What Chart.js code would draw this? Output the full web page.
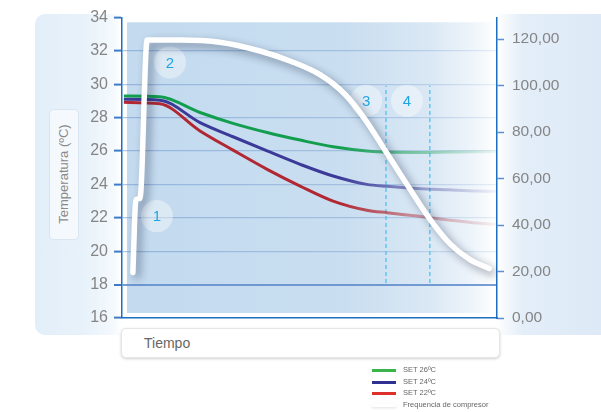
<!DOCTYPE html>
<html>
<head>
<meta charset="utf-8">
<script src="https://cdn.jsdelivr.net/npm/chart.js@4.4.1/dist/chart.umd.min.js"></script>
<style>
  body { margin: 0; background: #ffffff; font-family: "Liberation Sans", Arial, sans-serif; }
  #wrap { position: relative; width: 601px; height: 412px; overflow: hidden; }
  #panel {
    position: absolute; left: 35px; top: 14px; width: 580px; height: 321px; border-radius: 10px;
    background: linear-gradient(to right, #e2eef9 0px, #e8f2fa 50px, #f4f9fd 78px, #ffffff 87px,
      #ffffff 462px, #f3f8fc 472px, #e3eef9 488px, #dde9f6 566px);
  }
  #ylabel_box {
    position: absolute; left: 49px; top: 109px; width: 28px; height: 129px; border-radius: 5px;
    background: rgba(255,255,255,0.6); border: 1px solid rgba(205,220,235,0.7);
  }
  #ylabel {
    position: absolute; left: 63px; top: 174px; transform: translate(-50%, -50%) rotate(-90deg);
    white-space: nowrap; font-size: 13px; color: #8a8a8a;
  }
  #xlabel_box {
    position: absolute; left: 121px; top: 328px; width: 377px; height: 28px; border-radius: 5px;
    background: #ffffff; border: 1px solid #e6e6e6; box-shadow: 0 1px 3px rgba(0,0,0,0.18);
  }
  #xlabel { position: absolute; left: 22px; top: 6px; font-size: 14px; color: #666666; }
  #myChart { position: absolute; left: 0; top: 0; }
  #legend { position: absolute; left: 372px; top: 365px; }
  .item { height: 11.7px; position: relative; }
  .swatch { position: absolute; left: 0; top: 4px; width: 24px; height: 3px; }
  .txt { position: absolute; left: 31px; top: 0px; font-size: 7.5px; color: #666666; white-space: nowrap; }
</style>
</head>
<body>
<div id="wrap">
  <div id="panel"></div>
  <div id="ylabel_box"></div>
  <div id="ylabel">Temperatura (ºC)</div>
  <div id="xlabel_box"><div id="xlabel">Tiempo</div></div>
  <canvas id="myChart" width="601" height="412"></canvas>
  <div id="legend"></div>
</div>
<script>
// tiempo (sin unidades, el eje X no lleva etiquetas)
const tiempo = [0.5, 10.1, 20.8, 29.6, 38.7, 47.5, 56.3, 65.3, 70.7, 78.7, 87, 94.7, 100];
const set26 = [29.29, 29.24, 28.3, 27.65, 27.1, 26.65, 26.25, 26.0, 25.93, 25.91, 25.93, 25.95, 25.96];
const set24 = [29.09, 29.04, 27.7, 26.85, 26.0, 25.2, 24.5, 24.0, 23.88, 23.75, 23.67, 23.6, 23.58];
const set22 = [28.91, 28.82, 27.2, 26.05, 24.9, 23.9, 23.0, 22.45, 22.3, 22.1, 21.87, 21.68, 21.6];

// frecuencia de compresor (eje derecho)
const tiempoComp = [2.9, 3.7, 4.8, 6.7, 15.5, 26.1, 36.8, 44.8, 52.8, 59.5, 64.8, 70.1, 76, 82.1, 87.5, 92.8, 97.9];
const frecuencia = [19.6, 51, 51.5, 119.6, 119.6, 118.7, 114.9, 110.6, 104.7, 96.2, 85.5, 72.3, 57.4, 42.6, 31.9, 25.1, 21.3];

// fases 1-4
const faseLabels = ['1', '2', '3', '4'];
const faseX = [9.3, 12.8, 65.1, 76];
const faseY = [22.1, 31.3, 29.0, 29.0];

// lineas discontinuas
const cortesX = [70.4, 82.1];
const cortesY = [18.1, 29.9];

const tempTicks = [16, 18, 20, 22, 24, 26, 28, 30, 32, 34];
const compTicks = [0, 20, 40, 60, 80, 100, 120];

const seriesNames = ['SET 26ºC', 'SET 24ºC', 'SET 22ºC', 'Frequencia de compresor'];
const legendColors = ['#3bb54a', '#2e3192', '#dd302a', '#ffffff'];

function toPoints(xs, ys) {
    let pts = [];
    for (let i = 0; i < xs.length; i = i + 1) {
        pts.push({ x: xs[i], y: ys[i] });
    }
    return pts;
}

function fadeColor(r, g, b) {
    return function (context) {
        const chart = context.chart;
        const area = chart.chartArea;
        if (!area) return 'rgb(' + r + ',' + g + ',' + b + ')';
        const grad = chart.ctx.createLinearGradient(area.left, 0, area.right, 0);
        grad.addColorStop(0, 'rgba(' + r + ',' + g + ',' + b + ',1)');
        grad.addColorStop(0.58, 'rgba(' + r + ',' + g + ',' + b + ',1)');
        grad.addColorStop(0.76, 'rgba(' + r + ',' + g + ',' + b + ',0.5)');
        grad.addColorStop(1, 'rgba(' + r + ',' + g + ',' + b + ',0.05)');
        return grad;
    };
}

function gridColor(context) {
    const chart = context.chart;
    const area = chart.chartArea;
    const v = context.tick ? context.tick.value : null;
    if (v === 16 || v === 34) return 'rgba(0,0,0,0)';
    if (v === 18) return 'rgba(95,140,205,0.85)';
    if (!area) return 'rgba(110,150,205,0.5)';
    const grad = chart.ctx.createLinearGradient(area.left, 0, area.right, 0);
    grad.addColorStop(0, 'rgba(110,150,205,0.55)');
    grad.addColorStop(0.7, 'rgba(110,150,205,0.4)');
    grad.addColorStop(1, 'rgba(110,150,205,0.15)');
    return grad;
}

// fondo del area del grafico
const plotBackground = {
    id: 'plotBackground',
    beforeDraw(chart) {
        const { ctx, chartArea } = chart;
        const a = chartArea;
        ctx.save();
        ctx.fillStyle = 'rgba(255,255,255,0.9)';
        ctx.fillRect(a.left, a.top, a.right - a.left, a.bottom - a.top);
        const grad = ctx.createLinearGradient(a.left, 0, a.right, 0);
        grad.addColorStop(0, '#c3daef');
        grad.addColorStop(0.6, '#c9def0');
        grad.addColorStop(0.82, '#dae8f5');
        grad.addColorStop(0.93, '#edf4fa');
        grad.addColorStop(1, '#ffffff');
        ctx.fillStyle = grad;
        ctx.fillRect(a.left + 5, a.top + 5, a.right - a.left - 10, a.bottom - a.top - 10);
        ctx.restore();
    }
};

// sombra de la linea blanca y numeros de las fases
const extras = {
    id: 'extras',
    beforeDatasetDraw(chart, args) {
        if (args.index === 3) {
            const ctx = chart.ctx;
            ctx.save();
            ctx.shadowColor = 'rgba(20,30,60,0.45)';
            ctx.shadowBlur = 8;
            ctx.shadowOffsetX = 4;
            ctx.shadowOffsetY = 4;
        }
    },
    afterDatasetDraw(chart, args) {
        if (args.index === 3) {
            chart.ctx.restore();
        }
    },
    afterDatasetsDraw(chart) {
        const meta = chart.getDatasetMeta(6);
        const ctx = chart.ctx;
        ctx.save();
        ctx.font = '15px "Liberation Sans", Arial, sans-serif';
        ctx.fillStyle = '#1fa5e4';
        ctx.textAlign = 'center';
        ctx.textBaseline = 'middle';
        meta.data.forEach(function (pt, i) {
            ctx.fillText(faseLabels[i], pt.x, pt.y + 1);
        });
        ctx.restore();
    }
};

const ctx = document.getElementById('myChart').getContext('2d');
const myChart = new Chart(ctx, {
    type: 'line',
    data: {
        datasets: [
            {
                label: seriesNames[0], data: toPoints(tiempo, set26), yAxisID: 'y',
                borderColor: fadeColor(18, 158, 78), borderWidth: 3, pointRadius: 0,
                cubicInterpolationMode: 'monotone', order: 5
            },
            {
                label: seriesNames[1], data: toPoints(tiempo, set24), yAxisID: 'y',
                borderColor: fadeColor(60, 58, 152), borderWidth: 3, pointRadius: 0,
                cubicInterpolationMode: 'monotone', order: 5
            },
            {
                label: seriesNames[2], data: toPoints(tiempo, set22), yAxisID: 'y',
                borderColor: fadeColor(178, 40, 50), borderWidth: 3, pointRadius: 0,
                cubicInterpolationMode: 'monotone', order: 5
            },
            {
                label: seriesNames[3], data: toPoints(tiempoComp, frecuencia), yAxisID: 'y1',
                borderColor: '#ffffff', borderWidth: 5.5, pointRadius: 0, borderCapStyle: 'round',
                borderJoinStyle: 'round', cubicInterpolationMode: 'monotone', order: 1
            },
            {
                label: 'corte 3', data: [{ x: cortesX[0], y: cortesY[0] }, { x: cortesX[0], y: cortesY[1] }],
                yAxisID: 'y', borderColor: '#4fc1ef', borderWidth: 1.3, borderDash: [4, 3],
                pointRadius: 0, order: 8
            },
            {
                label: 'corte 4', data: [{ x: cortesX[1], y: cortesY[0] }, { x: cortesX[1], y: cortesY[1] }],
                yAxisID: 'y', borderColor: '#4fc1ef', borderWidth: 1.3, borderDash: [4, 3],
                pointRadius: 0, order: 8
            },
            {
                label: 'fases', data: toPoints(faseX, faseY), yAxisID: 'y', showLine: false,
                pointRadius: 16, pointBackgroundColor: 'rgba(255,255,255,0.4)', pointBorderWidth: 0,
                order: 10
            }
        ]
    },
    options: {
        responsive: false,
        animation: false,
        layout: { padding: { left: 0, right: 0, top: 14, bottom: 94 } },
        plugins: { legend: { display: false }, tooltip: { enabled: false } },
        scales: {
            x: {
                type: 'linear', min: 0, max: 100,
                ticks: { display: false },
                grid: { display: false },
                border: { display: true, color: '#1d6fc0', width: 1.5 },
                afterFit(scale) { scale.height = 0; }
            },
            y: {
                position: 'left', min: 16, max: 34,
                afterBuildTicks(axis) { axis.ticks = tempTicks.map(v => ({ value: v })); },
                ticks: {
                    color: '#858585', padding: 6,
                    font: { size: 16, family: '"Liberation Sans", Arial, sans-serif' }
                },
                grid: { color: gridColor, lineWidth: (c) => (c.tick && c.tick.value === 18 ? 2 : 1.2),
                    tickColor: '#3f7cc8', tickLength: 8, tickWidth: 2 },
                border: { color: '#1d6fc0', width: 1.5 },
                afterFit(scale) { scale.width = 122; }
            },
            y1: {
                position: 'right', min: 0, max: 129.4,
                afterBuildTicks(axis) { axis.ticks = compTicks.map(v => ({ value: v })); },
                ticks: {
                    color: '#858585', padding: 8,
                    font: { size: 15.5, family: '"Liberation Sans", Arial, sans-serif' },
                    callback: (v) => v.toFixed(2).replace('.', ',')
                },
                grid: { drawOnChartArea: false, tickColor: '#5a8fd0', tickLength: 7, tickWidth: 1.5 },
                border: { color: '#1d6fc0', width: 1.5 },
                afterFit(scale) { scale.width = 104; }
            }
        }
    },
    plugins: [plotBackground, extras]
});

// leyenda
const legend = document.getElementById('legend');
for (let i = 0; i < seriesNames.length; i = i + 1) {
    const item = document.createElement('div');
    item.className = 'item';
    const sw = document.createElement('div');
    sw.className = 'swatch';
    sw.style.background = legendColors[i];
    if (i === 3) sw.style.boxShadow = '0 1px 3px rgba(0,0,0,0.12)';
    const t = document.createElement('div');
    t.className = 'txt';
    t.innerText = seriesNames[i];
    item.appendChild(sw);
    item.appendChild(t);
    legend.appendChild(item);
}
</script>
</body>
</html>
